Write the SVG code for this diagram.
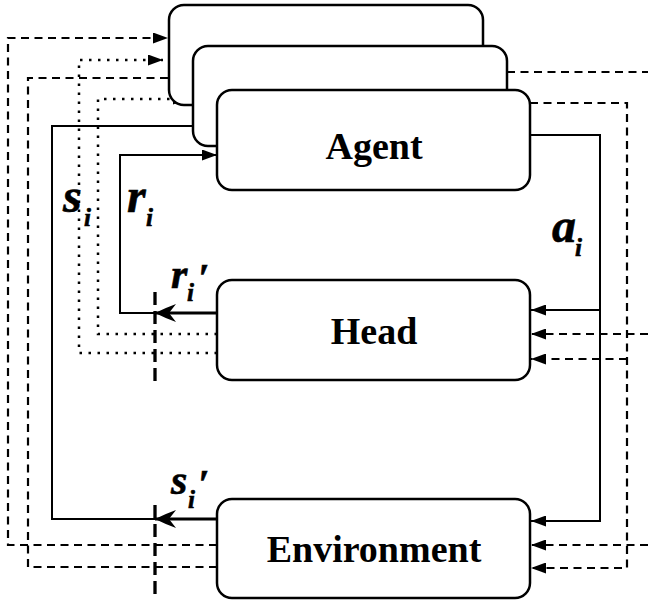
<svg xmlns="http://www.w3.org/2000/svg" width="648" height="601" viewBox="0 0 648 601">
<style>
.box{fill:#fff;stroke:#000;stroke-width:2.5}
.lbl{font-family:"Liberation Serif","Times New Roman",serif;font-weight:bold;font-size:38px;text-anchor:middle;fill:#000}
.it{font-family:"Liberation Serif","Times New Roman",serif;font-weight:bold;font-style:italic;fill:#000;stroke:#000;stroke-width:0.6}
.ln{fill:none;stroke:#000;stroke-width:2}
.thick{fill:none;stroke:#000;stroke-width:3.2}
.dash{fill:none;stroke:#000;stroke-width:2.2;stroke-dasharray:8 5.5}
.dot{fill:none;stroke:#000;stroke-width:2.5;stroke-dasharray:2.5 6.5}
.mark{fill:none;stroke:#000;stroke-width:3.3;stroke-dasharray:13 6}
</style>
<defs>
<marker id="ah" markerWidth="15" markerHeight="11" refX="15" refY="5.5" orient="auto" markerUnits="userSpaceOnUse"><path d="M0,0 L15,5.5 L0,11 Z" fill="#000"/></marker>
<marker id="barb" markerWidth="22" markerHeight="20" refX="21" refY="10" orient="auto" markerUnits="userSpaceOnUse"><path d="M21,10 Q11,5 0,1 L7,10 L0,19 Q11,15 21,10 Z" fill="#000"/></marker>
</defs>
<g id="connectors">
<path class="ln" d="M530,135 H600 V521 H531" marker-end="url(#ah)"/>
<path class="ln" d="M600,310 H531" marker-end="url(#ah)"/>
<path class="thick" d="M217,313 H155" marker-end="url(#barb)"/>
<path class="ln" d="M156,313 H120 V155 H217" marker-end="url(#ah)"/>
<path class="thick" d="M217,519 H155" marker-end="url(#barb)"/>
<path class="ln" d="M156,519 H52 V126 H217" marker-end="url(#ah)"/>
<path class="dot" d="M217,334 H98 V99 H188" marker-end="url(#ah)"/>
<path class="dot" d="M217,353 H79 V60 H163" marker-end="url(#ah)"/>
<path class="dash" d="M217,545 H8 V38 H168" marker-end="url(#ah)"/>
<path class="dash" d="M217,567 H28 V78 H192" marker-end="url(#ah)"/>
<path class="dash" d="M507,72 H648"/>
<path class="dash" d="M648,334 H531" marker-end="url(#ah)"/>
<path class="dash" d="M648,545 H531" marker-end="url(#ah)"/>
<path class="dash" d="M530,103 H627 V568 H531" marker-end="url(#ah)"/>
<path class="dash" d="M627,359 H531" marker-end="url(#ah)"/>
<path class="mark" d="M155,292 V382"/>
<path class="mark" d="M155,505 V597"/>
</g>
<g id="agent3"><rect class="box" x="169" y="5" width="314" height="100" rx="15"/></g>
<g id="agent2"><rect class="box" x="193" y="46" width="314" height="100" rx="15"/></g>
<g id="agent"><rect class="box" x="217" y="90" width="313" height="100" rx="15"/><text class="lbl" x="374" y="159">Agent</text></g>
<g id="head"><rect class="box" x="217" y="280" width="313" height="100" rx="15"/><text class="lbl" x="374" y="344">Head</text></g>
<g id="environment"><rect class="box" x="217" y="499" width="313" height="99" rx="15"/><text class="lbl" x="374" y="562">Environment</text></g>
<g id="labels">
<text class="it" x="63" y="212" font-size="48">s</text><text class="it" x="84" y="226" font-size="25">i</text>
<text class="it" x="127" y="212" font-size="48">r</text><text class="it" x="146" y="226" font-size="25">i</text>
<text class="it" x="552" y="242" font-size="48">a</text><text class="it" x="575" y="256" font-size="25">i</text>
<text class="it" x="171" y="288" font-size="42">r</text><text class="it" x="187" y="301" font-size="25">i</text><text class="it" x="198" y="291" font-size="40">′</text>
<text class="it" x="171" y="494" font-size="42">s</text><text class="it" x="188" y="508" font-size="25">i</text><text class="it" x="198" y="497" font-size="40">′</text>
</g>
</svg>
